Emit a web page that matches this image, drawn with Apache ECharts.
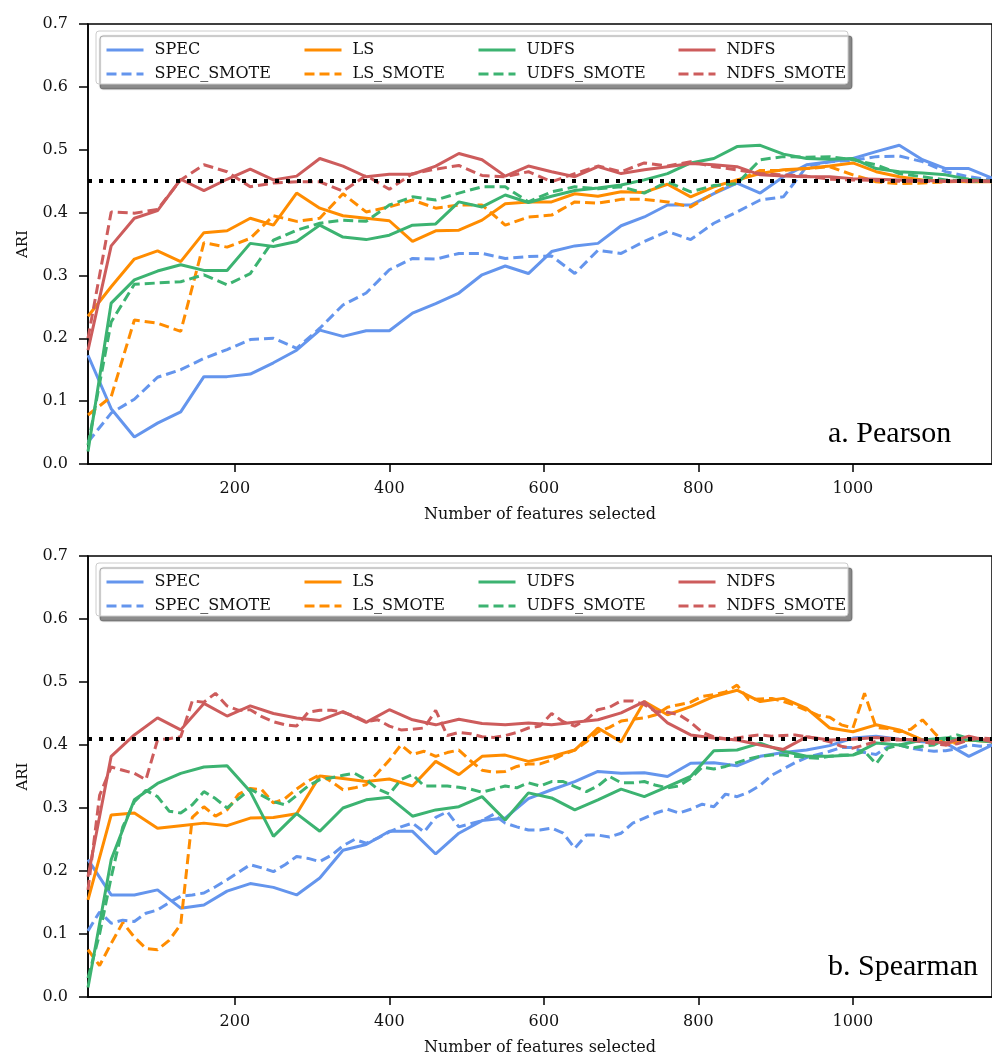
<!DOCTYPE html>
<html>
<head>
<meta charset="UTF-8">
<title>ARI vs number of features selected</title>
<script src="https://cdn.jsdelivr.net/npm/echarts@6/dist/echarts.min.js"></script>
<style>html,body{margin:0;padding:0;background:#fff;}</style>
</head>
<body>
<div id="main" style="width:992px;height:1058px;"></div>
<script>
// x positions: solid lines (and top dashed) every 30 features, bottom dashed every 15
var xs30 = [10,40,70,100,130,160,190,220,250,280,310,340,370,400,430,460,490,520,550,580,
            610,640,670,700,730,760,790,820,850,880,910,940,970,1000,1030,1060,1090,1120,1150,1180];
var xs15 = [10,25,40,55,70,85,100,115,130,145,160,175,190,205,220,235,250,265,280,295,
            310,325,340,355,370,385,400,415,430,445,460,475,490,505,520,535,550,565,580,595,
            610,625,640,655,670,685,700,715,730,745,760,775,790,805,820,835,850,865,880,895,
            910,925,940,955,970,985,1000,1015,1030,1045,1060,1075,1090,1105,1120,1135,1150,1165,1180];
var xTicks = [200, 400, 600, 800, 1000];
var yTicks = [0, 0.1, 0.2, 0.3, 0.4, 0.5, 0.6, 0.7];
var baselines = [0.45, 0.405];
var panelLabels = ['a. Pearson', 'b. Spearman'];

// a. Pearson
var pSpec   = [0.173,0.088,0.043,0.065,0.083,0.139,0.139,0.143,0.161,0.181,0.213,0.203,0.212,0.212,0.240,0.255,0.272,0.301,0.315,0.303,
               0.338,0.347,0.351,0.379,0.393,0.412,0.412,0.430,0.447,0.431,0.457,0.476,0.481,0.486,0.497,0.507,0.484,0.470,0.470,0.455];
var pSpecS  = [0.035,0.081,0.103,0.138,0.150,0.168,0.182,0.198,0.200,0.184,0.216,0.253,0.272,0.309,0.327,0.326,0.335,0.335,0.327,0.330,
               0.331,0.303,0.340,0.335,0.354,0.370,0.357,0.383,0.401,0.420,0.425,0.473,0.481,0.483,0.489,0.490,0.481,0.465,0.457,0.452];
var pLs     = [0.235,0.282,0.326,0.339,0.322,0.368,0.371,0.391,0.380,0.431,0.407,0.395,0.391,0.387,0.354,0.371,0.372,0.388,0.414,0.417,
               0.417,0.430,0.426,0.433,0.432,0.445,0.425,0.441,0.452,0.462,0.468,0.470,0.474,0.479,0.465,0.457,0.452,0.450,0.449,0.449];
var pLsS    = [0.078,0.107,0.229,0.224,0.211,0.352,0.345,0.359,0.395,0.386,0.391,0.430,0.401,0.409,0.420,0.407,0.412,0.412,0.380,0.393,
               0.396,0.417,0.415,0.421,0.421,0.417,0.409,0.431,0.450,0.467,0.467,0.470,0.473,0.460,0.449,0.446,0.447,0.449,0.450,0.450];
var pUdfs   = [0.020,0.256,0.293,0.307,0.317,0.308,0.308,0.351,0.346,0.354,0.380,0.361,0.357,0.364,0.380,0.382,0.417,0.409,0.428,0.416,
               0.426,0.435,0.439,0.444,0.452,0.462,0.479,0.486,0.505,0.507,0.493,0.486,0.485,0.486,0.470,0.465,0.463,0.460,0.453,0.450];
var pUdfsS  = [0.030,0.226,0.286,0.288,0.290,0.301,0.285,0.303,0.356,0.372,0.383,0.388,0.386,0.412,0.425,0.420,0.431,0.441,0.441,0.417,
               0.433,0.441,0.438,0.441,0.431,0.449,0.433,0.443,0.446,0.484,0.489,0.488,0.489,0.484,0.476,0.462,0.457,0.452,0.450,0.450];
var pNdfs   = [0.181,0.347,0.391,0.403,0.453,0.435,0.453,0.469,0.452,0.458,0.486,0.474,0.457,0.461,0.461,0.474,0.494,0.484,0.458,0.474,
               0.465,0.457,0.473,0.462,0.468,0.473,0.478,0.476,0.473,0.460,0.458,0.457,0.457,0.454,0.453,0.452,0.451,0.450,0.451,0.450];
var pNdfsS  = [0.200,0.401,0.399,0.405,0.452,0.476,0.465,0.441,0.447,0.449,0.449,0.434,0.459,0.437,0.462,0.469,0.475,0.459,0.457,0.465,
               0.449,0.462,0.474,0.465,0.479,0.474,0.481,0.473,0.468,0.462,0.460,0.458,0.453,0.452,0.451,0.450,0.450,0.450,0.450,0.450];

// b. Spearman
var sSpec   = [0.218,0.162,0.162,0.170,0.141,0.146,0.168,0.180,0.174,0.162,0.189,0.233,0.242,0.263,0.263,0.227,0.260,0.280,0.284,0.315,
               0.329,0.342,0.358,0.355,0.356,0.350,0.371,0.372,0.367,0.382,0.388,0.392,0.399,0.411,0.414,0.409,0.405,0.403,0.382,0.400];
var sLs     = [0.154,0.289,0.292,0.268,0.272,0.276,0.272,0.284,0.285,0.291,0.351,0.347,0.342,0.346,0.335,0.374,0.353,0.382,0.384,0.374,
               0.382,0.392,0.427,0.405,0.469,0.448,0.461,0.477,0.487,0.469,0.474,0.458,0.427,0.421,0.432,0.424,0.408,0.403,0.408,0.405];
var sUdfs   = [0.015,0.218,0.313,0.339,0.355,0.365,0.367,0.326,0.255,0.291,0.263,0.300,0.313,0.317,0.287,0.297,0.302,0.318,0.281,0.324,
               0.316,0.297,0.313,0.330,0.318,0.334,0.350,0.391,0.392,0.403,0.390,0.382,0.382,0.384,0.403,0.400,0.408,0.411,0.408,0.405];
var sNdfs   = [0.191,0.382,0.416,0.443,0.424,0.466,0.446,0.462,0.450,0.443,0.439,0.453,0.436,0.456,0.440,0.432,0.441,0.434,0.432,0.435,
               0.432,0.436,0.440,0.451,0.469,0.435,0.416,0.411,0.408,0.400,0.393,0.413,0.408,0.409,0.412,0.409,0.408,0.403,0.414,0.405];
var sSpecS  = [0.105,0.135,0.117,0.122,0.120,0.133,0.138,0.150,0.160,0.162,0.165,0.175,0.186,0.198,0.210,0.205,0.199,0.210,0.223,0.220,
               0.215,0.225,0.240,0.250,0.244,0.252,0.262,0.270,0.276,0.262,0.285,0.294,0.270,0.275,0.280,0.290,0.276,0.270,0.265,0.265,
               0.268,0.260,0.236,0.257,0.257,0.254,0.260,0.276,0.284,0.292,0.298,0.292,0.298,0.306,0.302,0.322,0.318,0.325,0.336,0.352,
               0.362,0.372,0.380,0.385,0.390,0.396,0.396,0.388,0.385,0.397,0.400,0.395,0.392,0.390,0.391,0.394,0.400,0.398,0.400];
var sLsS    = [0.075,0.050,0.085,0.118,0.095,0.077,0.075,0.090,0.115,0.285,0.302,0.287,0.297,0.322,0.331,0.329,0.308,0.315,0.330,0.343,
               0.353,0.342,0.329,0.332,0.337,0.356,0.376,0.400,0.385,0.390,0.382,0.388,0.392,0.375,0.360,0.357,0.358,0.366,0.370,0.370,
               0.376,0.385,0.392,0.405,0.421,0.428,0.438,0.441,0.443,0.448,0.460,0.464,0.468,0.477,0.480,0.484,0.495,0.472,0.473,0.474,
               0.469,0.463,0.455,0.447,0.444,0.432,0.427,0.482,0.428,0.426,0.421,0.425,0.440,0.420,0.400,0.404,0.408,0.408,0.405];
var sUdfsS  = [0.030,0.100,0.190,0.270,0.310,0.328,0.318,0.295,0.292,0.305,0.326,0.315,0.300,0.315,0.330,0.320,0.310,0.305,0.320,0.335,
               0.345,0.348,0.352,0.355,0.345,0.330,0.322,0.345,0.353,0.335,0.335,0.335,0.333,0.330,0.325,0.330,0.335,0.332,0.340,0.335,
               0.342,0.342,0.334,0.326,0.335,0.350,0.340,0.340,0.342,0.336,0.332,0.335,0.347,0.365,0.362,0.366,0.372,0.378,0.382,0.384,
               0.384,0.382,0.380,0.379,0.382,0.384,0.384,0.390,0.370,0.395,0.400,0.395,0.398,0.400,0.410,0.416,0.410,0.408,0.405];
var sNdfsS  = [0.170,0.320,0.365,0.360,0.355,0.345,0.408,0.410,0.413,0.470,0.468,0.482,0.462,0.455,0.456,0.445,0.437,0.432,0.430,0.452,
               0.455,0.455,0.452,0.446,0.437,0.440,0.430,0.424,0.425,0.427,0.455,0.415,0.420,0.418,0.413,0.412,0.415,0.420,0.427,0.430,
               0.450,0.437,0.430,0.440,0.456,0.460,0.470,0.470,0.464,0.453,0.452,0.448,0.436,0.420,0.413,0.410,0.411,0.414,0.416,0.414,
               0.415,0.416,0.413,0.410,0.405,0.398,0.395,0.400,0.406,0.408,0.408,0.408,0.405,0.402,0.400,0.402,0.408,0.411,0.410];

var names  = ['SPEC', 'SPEC_SMOTE', 'LS', 'LS_SMOTE', 'UDFS', 'UDFS_SMOTE', 'NDFS', 'NDFS_SMOTE'];
var colors = ['#6495ed', '#6495ed', '#ff8c00', '#ff8c00', '#3cb371', '#3cb371', '#cd5c5c', '#cd5c5c'];

var panels = [
  { top: 24,  height: 440, xs: [xs30, xs30, xs30, xs30, xs30, xs30, xs30, xs30],
    ys: [pSpec, pSpecS, pLs, pLsS, pUdfs, pUdfsS, pNdfs, pNdfsS] },
  { top: 556, height: 441, xs: [xs30, xs15, xs30, xs15, xs30, xs15, xs30, xs15],
    ys: [sSpec, sSpecS, sLs, sLsS, sUdfs, sUdfsS, sNdfs, sNdfsS] }
];

var FONT = 'DejaVu Serif';
var INK = '#111';

function pairs(xs, ys) {
  return ys.map(function (v, i) { return [xs[i], v]; });
}

var grids = [], xAxes = [], yAxes = [], series = [], legends = [], graphics = [];
var legendCols = [100, 298, 472, 672];

panels.forEach(function (p, k) {
  grids.push({ left: 88, top: p.top, width: 910, height: p.height,
               show: true, borderColor: '#000', borderWidth: 1.5, backgroundColor: 'transparent' });

  xAxes.push({
    gridIndex: k, type: 'value', min: 10, max: 1180,
    name: 'Number of features selected', nameLocation: 'middle', nameGap: 43,
    nameTextStyle: { fontFamily: FONT, fontSize: 16, color: INK },
    axisLine: { show: true, onZero: false, lineStyle: { color: '#000', width: 1.5 } },
    axisTick: { show: true, length: 8, customValues: xTicks, lineStyle: { color: '#000', width: 1.5 } },
    axisLabel: { customValues: xTicks, margin: 17, fontFamily: FONT, fontSize: 16, color: INK,
                 formatter: function (v) { return String(v); } },
    splitLine: { show: false }
  });

  yAxes.push({
    gridIndex: k, type: 'value', min: 0, max: 0.7, interval: 0.1,
    name: 'ARI', nameLocation: 'middle', nameGap: 57, nameRotate: 90,
    nameTextStyle: { fontFamily: FONT, fontSize: 15, color: INK },
    axisLine: { show: true, lineStyle: { color: '#000', width: 1.5 } },
    axisTick: { show: true, length: 9, customValues: yTicks, lineStyle: { color: '#000', width: 1.5 } },
    axisLabel: { margin: 20, fontFamily: FONT, fontSize: 16, color: INK,
                 formatter: function (v) { return v.toFixed(1); } },
    splitLine: { show: false }
  });

  names.forEach(function (n, i) {
    series.push({
      name: n, type: 'line', xAxisIndex: k, yAxisIndex: k,
      data: pairs(p.xs[i], p.ys[i]),
      symbol: 'none', clip: true, z: 2,
      color: colors[i],
      lineStyle: { width: 3, color: colors[i], type: (i % 2 ? [10, 5] : 'solid') }
    });
  });

  // dotted reference line
  series.push({
    name: 'baseline' + k, type: 'line', xAxisIndex: k, yAxisIndex: k, data: [],
    symbol: 'none', z: 4,
    markLine: {
      silent: true, symbol: 'none', label: { show: false },
      lineStyle: { color: '#000', width: 4, type: [4, 7], cap: 'butt' },
      data: [{ yAxis: baselines[k] }]
    }
  });

  var boxTop = p.top + 7;
  legendCols.forEach(function (lx, c) {
    legends.push({
      orient: 'vertical', left: lx, top: boxTop + 5,
      itemWidth: 37, itemHeight: 10, itemGap: 6,
      selectedMode: false, z: 10,
      itemStyle: { color: 'rgba(0,0,0,0)', borderWidth: 0, opacity: 0 },
      lineStyle: { width: 3 },
      data: [names[2 * c], names[2 * c + 1]],
      textStyle: { fontFamily: FONT, fontSize: 16, color: INK, lineHeight: 18, padding: [0, 0, 0, 6] }
    });
  });

  graphics.push({
    type: 'rect', z: 5,
    shape: { x: 96, y: boxTop, width: 752, height: 53, r: 3 },
    style: { fill: '#fff', stroke: '#cccccc', lineWidth: 1,
             shadowColor: 'rgba(0,0,0,0.45)', shadowOffsetX: 4, shadowOffsetY: 5, shadowBlur: 1 }
  });
  graphics.push({
    type: 'text', z: 5,
    style: { text: panelLabels[k], x: 828, y: p.top + p.height - 30,
             font: '30px "Liberation Serif"', fill: '#000', textVerticalAlign: 'middle' }
  });
});

var myChart = echarts.init(document.getElementById('main'));
myChart.setOption({
  animation: false,
  backgroundColor: '#fff',
  grid: grids,
  xAxis: xAxes,
  yAxis: yAxes,
  legend: legends,
  graphic: graphics,
  series: series
});
</script>
</body>
</html>
